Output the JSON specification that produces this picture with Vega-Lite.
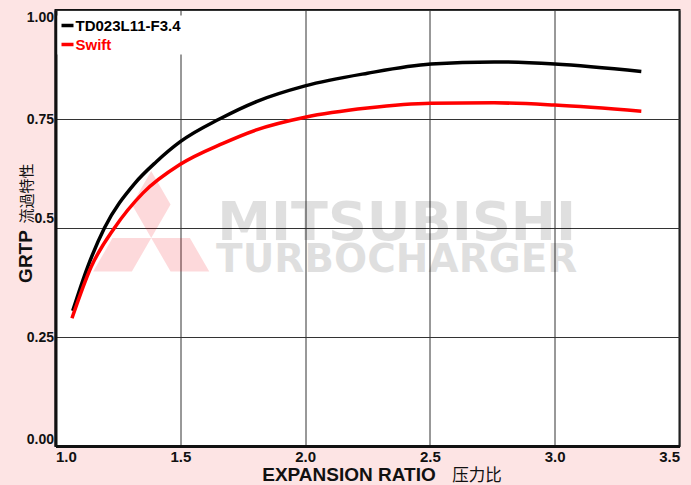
{
  "$schema": "https://vega.github.io/schema/vega-lite/v6.json",
  "width": 624,
  "height": 436,
  "autosize": "none",
  "padding": {"left": 55.5, "top": 10, "right": 11.5, "bottom": 39},
  "background": "#fde4e4",
  "config": {
    "view": {"fill": "white", "stroke": "#111111", "strokeWidth": 2},
    "font": "Liberation Sans"
  },
  "resolve": {
    "scale": {"x": "independent", "y": "independent"},
    "axis": {"x": "independent", "y": "independent"}
  },
  "layer": [
    {
      "data": {"values": [{}]},
      "layer": [
        {
          "mark": {
            "type": "point",
            "shape": "M0,0L-0.25,-0.433L0,-0.866L0.25,-0.433ZM0,0L0.5,0L0.75,0.433L0.25,0.433ZM0,0L-0.5,0L-0.75,0.433L-0.25,0.433Z",
            "size": 23963,
            "filled": true,
            "color": "#f00010",
            "opacity": 0.15,
            "strokeOpacity": 0
          },
          "encoding": {
            "x": {"datum": 1.3835, "type": "quantitative", "scale": {"domain": [1, 3.5], "zero": false}},
            "y": {"datum": 0.477, "type": "quantitative", "scale": {"domain": [0, 1]}}
          }
        },
        {
          "mark": {
            "type": "text",
            "text": "MITSUBISHI",
            "font": "DejaVu Sans",
            "fontWeight": "bold",
            "fontSize": 54,
            "align": "center",
            "baseline": "alphabetic",
            "color": "#000000",
            "opacity": 0.12
          },
          "encoding": {
            "x": {"datum": 2.367, "type": "quantitative", "scale": {"domain": [1, 3.5], "zero": false}},
            "y": {"datum": 0.472, "type": "quantitative", "scale": {"domain": [0, 1]}}
          }
        },
        {
          "mark": {
            "type": "text",
            "text": "TURBOCHARGER",
            "font": "DejaVu Sans",
            "fontWeight": "bold",
            "fontSize": 39,
            "align": "center",
            "baseline": "alphabetic",
            "color": "#000000",
            "opacity": 0.12
          },
          "encoding": {
            "x": {
              "datum": 2.367,
              "type": "quantitative",
              "scale": {"domain": [1, 3.5], "zero": false},
              "axis": {
                "orient": "bottom",
                "title": "压力比",
                "labels": false,
                "ticks": false,
                "domain": false,
                "grid": false,
                "titleFont": "Noto Sans CJK SC",
                "titleFontSize": 16.5,
                "titleFontWeight": "normal",
                "titleColor": "#111111",
                "titleX": 421,
                "titleY": 34,
                "titleAlign": "center",
                "titleBaseline": "alphabetic"
              }
            },
            "y": {
              "datum": 0.399,
              "type": "quantitative",
              "scale": {"domain": [0, 1]},
              "axis": {
                "orient": "left",
                "title": "流過特性",
                "labels": false,
                "ticks": false,
                "domain": false,
                "grid": false,
                "titleFont": "Noto Sans CJK JP",
                "titleFontSize": 15,
                "titleFontWeight": "normal",
                "titleColor": "#111111",
                "titleAngle": -90,
                "titleX": -24.5,
                "titleY": 183,
                "titleAlign": "center",
                "titleBaseline": "alphabetic"
              }
            }
          }
        }
      ]
    },
    {
      "data": {
        "values": [
          {"series": "TD023L11-F3.4", "ratio": 1.069, "grtp": 0.310},
          {"series": "TD023L11-F3.4", "ratio": 1.129, "grtp": 0.411},
          {"series": "TD023L11-F3.4", "ratio": 1.196, "grtp": 0.500},
          {"series": "TD023L11-F3.4", "ratio": 1.317, "grtp": 0.602},
          {"series": "TD023L11-F3.4", "ratio": 1.404, "grtp": 0.652},
          {"series": "TD023L11-F3.4", "ratio": 1.500, "grtp": 0.698},
          {"series": "TD023L11-F3.4", "ratio": 1.657, "grtp": 0.750},
          {"series": "TD023L11-F3.4", "ratio": 1.805, "grtp": 0.790},
          {"series": "TD023L11-F3.4", "ratio": 2.000, "grtp": 0.826},
          {"series": "TD023L11-F3.4", "ratio": 2.250, "grtp": 0.855},
          {"series": "TD023L11-F3.4", "ratio": 2.504, "grtp": 0.876},
          {"series": "TD023L11-F3.4", "ratio": 2.757, "grtp": 0.881},
          {"series": "TD023L11-F3.4", "ratio": 3.000, "grtp": 0.876},
          {"series": "TD023L11-F3.4", "ratio": 3.347, "grtp": 0.859},
          {"series": "Swift", "ratio": 1.066, "grtp": 0.293},
          {"series": "Swift", "ratio": 1.143, "grtp": 0.411},
          {"series": "Swift", "ratio": 1.236, "grtp": 0.500},
          {"series": "Swift", "ratio": 1.350, "grtp": 0.580},
          {"series": "Swift", "ratio": 1.500, "grtp": 0.646},
          {"series": "Swift", "ratio": 1.671, "grtp": 0.694},
          {"series": "Swift", "ratio": 1.805, "grtp": 0.725},
          {"series": "Swift", "ratio": 2.000, "grtp": 0.754},
          {"series": "Swift", "ratio": 2.250, "grtp": 0.775},
          {"series": "Swift", "ratio": 2.504, "grtp": 0.786},
          {"series": "Swift", "ratio": 2.757, "grtp": 0.787},
          {"series": "Swift", "ratio": 3.000, "grtp": 0.782},
          {"series": "Swift", "ratio": 3.347, "grtp": 0.768}
        ]
      },
      "mark": {"type": "line", "strokeWidth": 3.5, "interpolate": "monotone"},
      "encoding": {
        "x": {
          "field": "ratio",
          "type": "quantitative",
          "scale": {"domain": [1, 3.5]},
          "axis": {
            "orient": "bottom",
            "values": [1, 1.5, 2, 2.5, 3, 3.5],
            "format": ".1f",
            "labelFlush": true,
            "labelFontSize": 15,
            "labelFontWeight": "bold",
            "labelColor": "#111111",
            "labelPadding": 3,
            "ticks": false,
            "tickSize": 0,
            "domainColor": "#111111",
            "domainWidth": 3,
            "grid": true,
            "gridColor": "#333333",
            "gridWidth": 1,
            "gridOpacity": 1,
            "title": "EXPANSION RATIO",
            "titleFontSize": 19,
            "titleFontWeight": "bold",
            "titleColor": "#111111",
            "titleX": 293,
            "titleY": 34,
            "titleAlign": "center",
            "titleBaseline": "alphabetic"
          }
        },
        "y": {
          "field": "grtp",
          "type": "quantitative",
          "scale": {"domain": [0, 1]},
          "axis": {
            "orient": "left",
            "values": [0, 0.25, 0.5, 0.75, 1],
            "labelExpr": "datum.value == 0.5 ? '0.5' : format(datum.value, '.2f')",
            "labelFlush": true,
            "labelFontSize": 14,
            "labelFontWeight": "bold",
            "labelColor": "#111111",
            "labelPadding": 2,
            "labelOffset": {"condition": {"test": "datum.value == 0.5", "value": -10}, "value": 0},
            "ticks": false,
            "tickSize": 0,
            "domainColor": "#111111",
            "domainWidth": 3,
            "grid": true,
            "gridColor": "#333333",
            "gridWidth": 1,
            "gridOpacity": 1,
            "title": "GRTP",
            "titleFontSize": 19,
            "titleFontWeight": "bold",
            "titleColor": "#111111",
            "titleAngle": -90,
            "titleX": -24.5,
            "titleY": 246,
            "titleAlign": "center",
            "titleBaseline": "alphabetic"
          }
        },
        "color": {
          "field": "series",
          "type": "nominal",
          "scale": {"domain": ["TD023L11-F3.4", "Swift"], "range": ["#000000", "#ff0000"]},
          "legend": {
            "title": null,
            "orient": "none",
            "legendX": 2,
            "legendY": 5.5,
            "fillColor": "white",
            "padding": 2,
            "symbolType": "stroke",
            "symbolSize": 144,
            "symbolStrokeWidth": 3.5,
            "labelFontSize": 15,
            "labelFontWeight": "bold",
            "labelOffset": 0,
            "rowPadding": 3,
            "encode": {
              "labels": {
                "update": {
                  "fill": {"signal": "datum.label == 'Swift' ? '#ff0000' : '#000000'"}
                }
              }
            }
          }
        }
      }
    }
  ]
}
